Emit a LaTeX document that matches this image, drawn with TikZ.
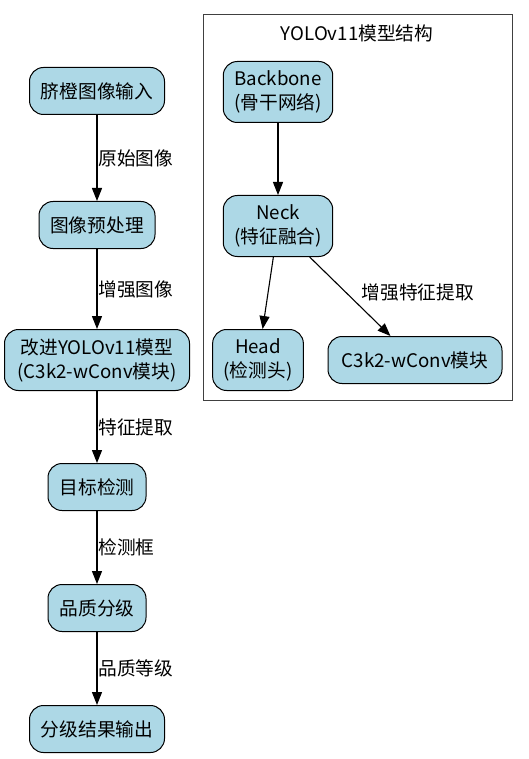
\documentclass[tikz,border=0pt]{standalone}
\usepackage{fontspec}
\setmainfont{Noto Sans CJK SC}
\usetikzlibrary{arrows.meta}
\definecolor{lightblue}{HTML}{ADD8E6}
\tikzset{
  stage/.style={draw=black, fill=lightblue, rounded corners=14pt, line width=1pt,
    minimum height=47pt, inner xsep=11pt, align=center, font=\fontsize{18.7}{24}\selectfont},
  flow/.style={-{Triangle[length=13pt,width=10pt]}, line width=1.1pt},
  lbl/.style={font=\fontsize{18.7}{24}\selectfont, inner sep=1pt}
}

\begin{document}
\begin{tikzpicture}[x=1pt,y=-1pt]
\useasboundingbox (0,0) rectangle (528,759);
\draw [black!75,line width=1pt] (203,15) rectangle (512,400);
\node[lbl] (title) at (357,33) {YOLOv11模型结构};
\node[stage,minimum width=135pt] (input) at (97,91) {脐橙图像输入};
\node[stage,minimum width=116pt] (prep) at (97,225) {图像预处理};
\node[stage,minimum width=185pt,minimum height=61pt] (model) at (97,360) {改进YOLOv11模型\\(C3k2-wConv模块)};
\node[stage,minimum width=98pt] (detect) at (97,487) {目标检测};
\node[stage,minimum width=98pt] (grade) at (97,608) {品质分级};
\node[stage,minimum width=135pt] (output) at (97,729) {分级结果输出};
\node[stage,minimum width=109pt,minimum height=61pt] (backbone) at (278,92) {Backbone\\(骨干网络)};
\node[stage,minimum width=109pt,minimum height=61pt] (neck) at (278,226) {Neck\\(特征融合)};
\node[stage,minimum width=88pt,minimum height=61pt] (head) at (258,360) {Head\\(检测头)};
\node[stage,minimum width=174pt] (wconv) at (415,360) {C3k2-wConv模块};
\draw[flow] (input) -- node[lbl,right] (l1) {原始图像} (prep);
\draw[flow] (prep) -- node[lbl,right] (l2) {增强图像} (model);
\draw[flow] (model) -- node[lbl,right] (l3) {特征提取} (detect);
\draw[flow] (detect) -- node[lbl,right] (l4) {检测框} (grade);
\draw[flow] (grade) -- node[lbl,right] (l5) {品质等级} (output);
\draw[flow] (backbone) -- (neck);
\draw[flow] (neck) -- (head);
\draw[flow] (neck) -- node[lbl,right,xshift=10pt,yshift=4pt] (l6) {增强特征提取} (wconv);
\end{tikzpicture}
\end{document}
